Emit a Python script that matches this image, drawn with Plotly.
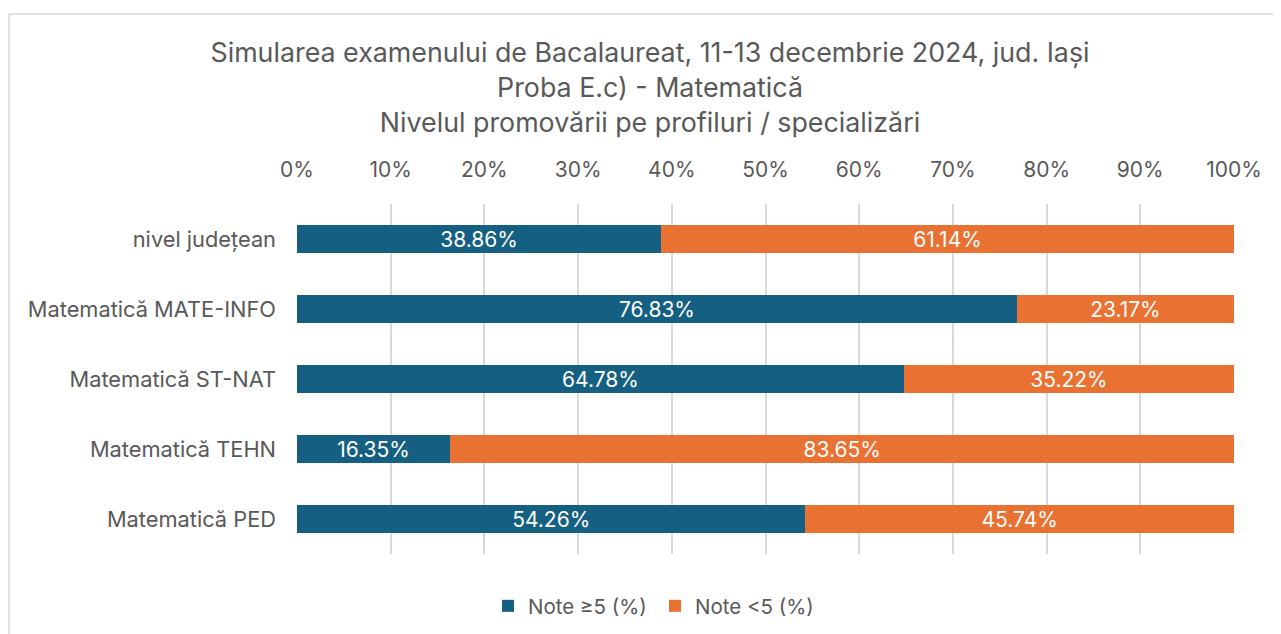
import plotly.graph_objects as go

categories = ["nivel județean", "Matematică MATE-INFO", "Matematică ST-NAT", "Matematică TEHN", "Matematică PED"]
pass_vals = [38.86, 76.83, 64.78, 16.35, 54.26]
fail_vals = [61.14, 23.17, 35.22, 83.65, 45.74]
series_names = ["Note ≥5 (%)", "Note <5 (%)"]
tick_vals = [0, 10, 20, 30, 40, 50, 60, 70, 80, 90, 100]
tick_text = [f"{v}%" for v in tick_vals]
title_lines = ["Simularea examenului de Bacalaureat, 11-13 decembrie 2024, jud. Iași",
               "Proba E.c) - Matematică",
               "Nivelul promovării pe profiluri / specializări"]

BLUE = "#156082"
ORANGE = "#E97132"
GRAY = "#595959"
FONT = "Inter, Liberation Sans, sans-serif"
FS = 21

fig = go.Figure()
for vals, name, color in [(pass_vals, series_names[0], BLUE), (fail_vals, series_names[1], ORANGE)]:
    fig.add_trace(go.Bar(
        y=categories, x=vals, orientation="h", name=name,
        marker=dict(color=color, line=dict(width=0)),
        text=[f"{v:.2f}%" for v in vals], textposition="inside",
        insidetextanchor="middle", constraintext="none",
        textfont=dict(color="white", size=FS, family=FONT),
        width=0.4,
    ))

# page body has an 8px margin: work in figure coordinates (screen - 8)
OFF = 8
W, H = 1281 - 2 * OFF, 634
L = 297 - OFF
T = 204 - OFF
R = W - (1234 - OFF)
B = H - (554 - OFF)
pw, ph = W - L - R, H - T - B

fig.update_layout(
    width=W, height=H,
    barmode="stack",
    paper_bgcolor="white", plot_bgcolor="white",
    margin=dict(l=L, r=R, t=T, b=B),
    font=dict(family=FONT, color=GRAY, size=FS),
    title=dict(text="<br>".join(title_lines), x=(650 - OFF) / W, xanchor="center",
               y=1 - 54 / H, yanchor="top",
               font=dict(size=26.8, color=GRAY, family=FONT)),
    xaxis=dict(side="top", range=[0, 100], tickvals=tick_vals, ticktext=tick_text,
               showgrid=True, gridcolor="#D9D9D9", gridwidth=1.5, zeroline=False,
               showline=False, ticks="", tickfont=dict(size=FS, color=GRAY),
               ticklabelstandoff=22, fixedrange=True),
    yaxis=dict(autorange="reversed", showgrid=False, zeroline=False, showline=False,
               ticks="", ticklabelstandoff=20, tickfont=dict(size=21.8, color=GRAY),
               fixedrange=True),
    legend=dict(orientation="h", x=(655 - 297) / pw, xanchor="center",
                y=-((606 - OFF) - (T + ph)) / ph,
                yanchor="middle", font=dict(size=FS - 0.5, color=GRAY),
                traceorder="normal", entrywidth=122),
    showlegend=True,
)

# outer chart border (top and left visible)
fig.add_shape(type="rect", xref="paper", yref="paper",
              x0=(9 - OFF - L) / pw, x1=(W + 20 - L) / pw,
              y0=-(H + 40 - T - ph) / ph, y1=1 + (T - (14 - OFF)) / ph,
              line=dict(color="#D9D9D9", width=1.5), layer="below")

fig.write_html("out.html")
